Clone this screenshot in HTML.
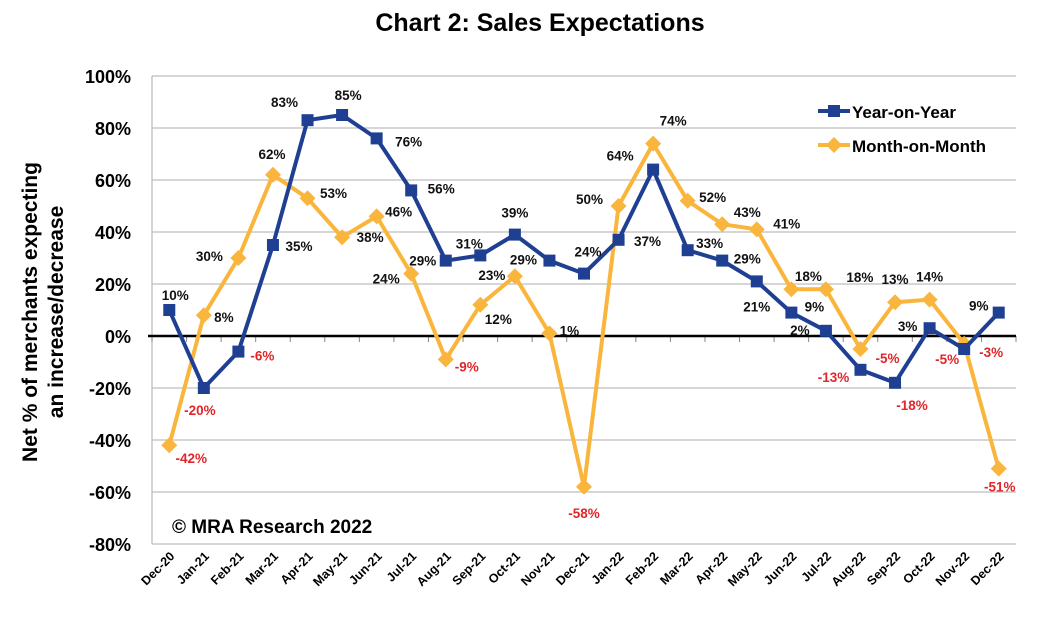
<!DOCTYPE html>
<html><head><meta charset="utf-8"><style>
body{margin:0;background:#fff;}
svg text{font-family:"Liberation Sans",Arial,sans-serif;font-weight:bold;}
</style></head><body>
<svg id="chart" width="1037" height="633" xmlns="http://www.w3.org/2000/svg">
<text x="540" y="31" text-anchor="middle" font-size="25">Chart 2: Sales Expectations</text>
<text transform="translate(37,312) rotate(-90)" text-anchor="middle" font-size="21"><tspan x="0" dy="0">Net % of merchants expecting</tspan><tspan x="0" dy="26">an increase/decrease</tspan></text>
<g id="grid"></g><g id="axes"></g><g id="series"></g><g id="labels"></g>
<g>
<line x1="818" y1="111" x2="850" y2="111" stroke="#1f3f93" stroke-width="4"/>
<rect x="828" y="105" width="12" height="12" fill="#1f3f93"/>
<text x="852" y="118" font-size="17">Year-on-Year</text>
<line x1="818" y1="145" x2="850" y2="145" stroke="#f9b53c" stroke-width="4"/>
<polygon points="834,137 842,145 834,153 826,145" fill="#f9b53c"/>
<text x="852" y="152" font-size="17">Month-on-Month</text>
</g>
<text x="172" y="533" font-size="19">© MRA Research 2022</text>
</svg>
<script>
const categories=["Dec-20","Jan-21","Feb-21","Mar-21","Apr-21","May-21","Jun-21","Jul-21","Aug-21","Sep-21","Oct-21","Nov-21","Dec-21","Jan-22","Feb-22","Mar-22","Apr-22","May-22","Jun-22","Jul-22","Aug-22","Sep-22","Oct-22","Nov-22","Dec-22"];
const yoyValues=[10,-20,-6,35,83,85,76,56,29,31,39,29,24,37,64,33,29,21,9,2,-13,-18,3,-5,9];
const momValues=[-42,8,30,62,53,38,46,24,-9,12,23,1,-58,50,74,52,43,41,18,18,-5,13,14,-3,-51];
const yTicks=[100,80,60,40,20,0,-20,-40,-60,-80];
const yoyLabelOffsets=[[6,-15],[-4,22],[24,4],[26,1],[-23,-18],[6,-20],[32,3],[30,-2],[-23,0],[-11,-12],[0,-22],[-26,-1],[4,-22],[29,1],[-33,-14],[22,-7],[25,-2],[0,25],[23,-6],[-26,-1],[-27,7],[17,22],[-22,-2],[-17,10],[-20,-7]];
const momLabelOffsets=[[22,13],[20,2],[-29,-2],[-1,-21],[26,-5],[28,0],[22,-5],[-25,5],[21,7],[18,14],[-23,-1],[20,-3],[0,26],[-29,-7],[20,-23],[25,-4],[25,-12],[30,-6],[17,-13],[34,-12],[27,9],[0,-23],[0,-23],[27,8],[1,18]];
const L=152,R=1016,bw=(R-L)/categories.length;
const x=i=>L+bw*(i+0.5);
const y=v=>336-v*2.6;
const NS="http://www.w3.org/2000/svg";
function mk(tag,attrs,parent){const e=document.createElementNS(NS,tag);for(const k in attrs)e.setAttribute(k,attrs[k]);parent.appendChild(e);return e;}
const grid=document.getElementById('grid'),axes=document.getElementById('axes'),ser=document.getElementById('series'),lab=document.getElementById('labels');
yTicks.forEach(t=>{
  if(t!==0){const g=mk('line',{x1:L,x2:R,y1:y(t),y2:y(t),stroke:'#bdbdbd','stroke-width':1.3},grid);
  
  }
  const tx=mk('text',{x:131,y:y(t)+7,'text-anchor':'end','font-size':18},axes);tx.textContent=t+'%';
  
  
});
mk('line',{x1:L,x2:L,y1:y(100),y2:y(-80),stroke:'#bdbdbd','stroke-width':1.3},axes);
for(let i=0;i<=categories.length;i++){mk('line',{x1:L+bw*i,x2:L+bw*i,y1:336,y2:342,stroke:'#888','stroke-width':1},axes);}
const zl=mk('line',{x1:L-4,x2:R,y1:336,y2:336,stroke:'#000','stroke-width':2.5},axes);


categories.forEach((c,i)=>{
  const t=mk('text',{transform:`translate(${x(i)+6},557) rotate(-45)`,'text-anchor':'end','font-size':12.5},axes);t.textContent=c;
  
  
});
function drawSeries(vals,color,marker,offs,name){
  const pl=mk('polyline',{points:vals.map((v,i)=>x(i)+','+y(v)).join(' '),fill:'none',stroke:color,'stroke-width':4,'stroke-linejoin':'round'},ser);
  
  
  vals.forEach((v,i)=>{
    const cx=x(i),cy=y(v);let m;
    if(marker==='sq')m=mk('rect',{x:cx-6,y:cy-6,width:12,height:12,fill:color},ser);
    else m=mk('polygon',{points:`${cx},${cy-8} ${cx+8},${cy} ${cx},${cy+8} ${cx-8},${cy}`,fill:color},ser);
    
    
    const t=mk('text',{x:cx+offs[i][0],y:cy+offs[i][1]+5,'text-anchor':'middle','font-size':13.5,fill:v<0?'#e0262b':'#111'},lab);
    t.textContent=v+'%';
    
    
  });
}
drawSeries(momValues,'#f9b53c','dia',momLabelOffsets,'mom');
drawSeries(yoyValues,'#1f3f93','sq',yoyLabelOffsets,'yoy');
</script>
</body></html>
